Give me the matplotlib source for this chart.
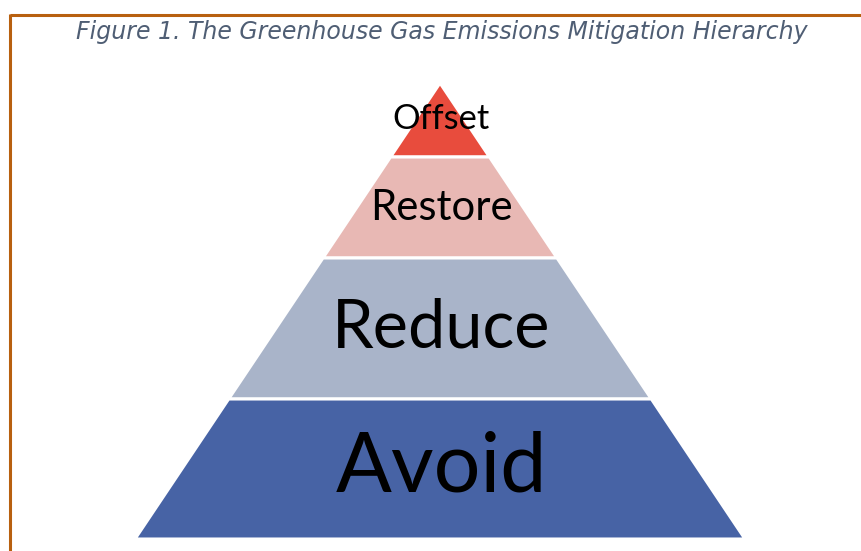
import matplotlib
matplotlib.use('Agg')
import matplotlib.pyplot as plt
from matplotlib.patches import Polygon

# pyramid tiers, top to bottom
tiers = ['Offset', 'Restore', 'Reduce', 'Avoid']
tier_heights = [74, 101, 141, 140]
tier_colors = ['#E84C3D', '#E8B8B4', '#A9B4C9', '#4763A5']
label_sizes = [24.8, 30.2, 48, 59.5]
title = 'Figure 1. The Greenhouse Gas Emissions Mitigation Hierarchy'

W, H = 861, 551
fig = plt.figure(figsize=(W / 100, H / 100), dpi=100)
ax = fig.add_axes([0, 0, 1, 1])
ax.set_xlim(0, W)
ax.set_ylim(H, 0)
ax.axis('off')

apex_x, apex_y = 440, 83
base_half = 305
total = sum(tier_heights)
slope = base_half / total

top = apex_y
for name, h, c, fs in zip(tiers, tier_heights, tier_colors, label_sizes):
    bot = top + h
    wt = (top - apex_y) * slope
    wb = (bot - apex_y) * slope
    pts = [(apex_x - wt, top), (apex_x + wt, top), (apex_x + wb, bot), (apex_x - wb, bot)]
    ax.add_patch(Polygon(pts, closed=True, facecolor=c, edgecolor='white', linewidth=2.2))
    ty = top + h / 2 if name != 'Offset' else top + h * 0.49
    ax.text(apex_x + 1, ty, name, ha='center', va='center', fontsize=fs,
            family='Lato', color='black')
    top = bot

# frame lines
ax.plot([10, W], [15, 15], color='#B8600F', linewidth=2.2, solid_capstyle='butt')
ax.plot([10, 10], [14, H], color='#B8600F', linewidth=2.2, solid_capstyle='butt')

ax.text(442, 32, title, ha='center', va='center', fontsize=17, style='italic',
        family='DejaVu Sans', color='#4F5E74')

fig.savefig('out.png', dpi=100)
